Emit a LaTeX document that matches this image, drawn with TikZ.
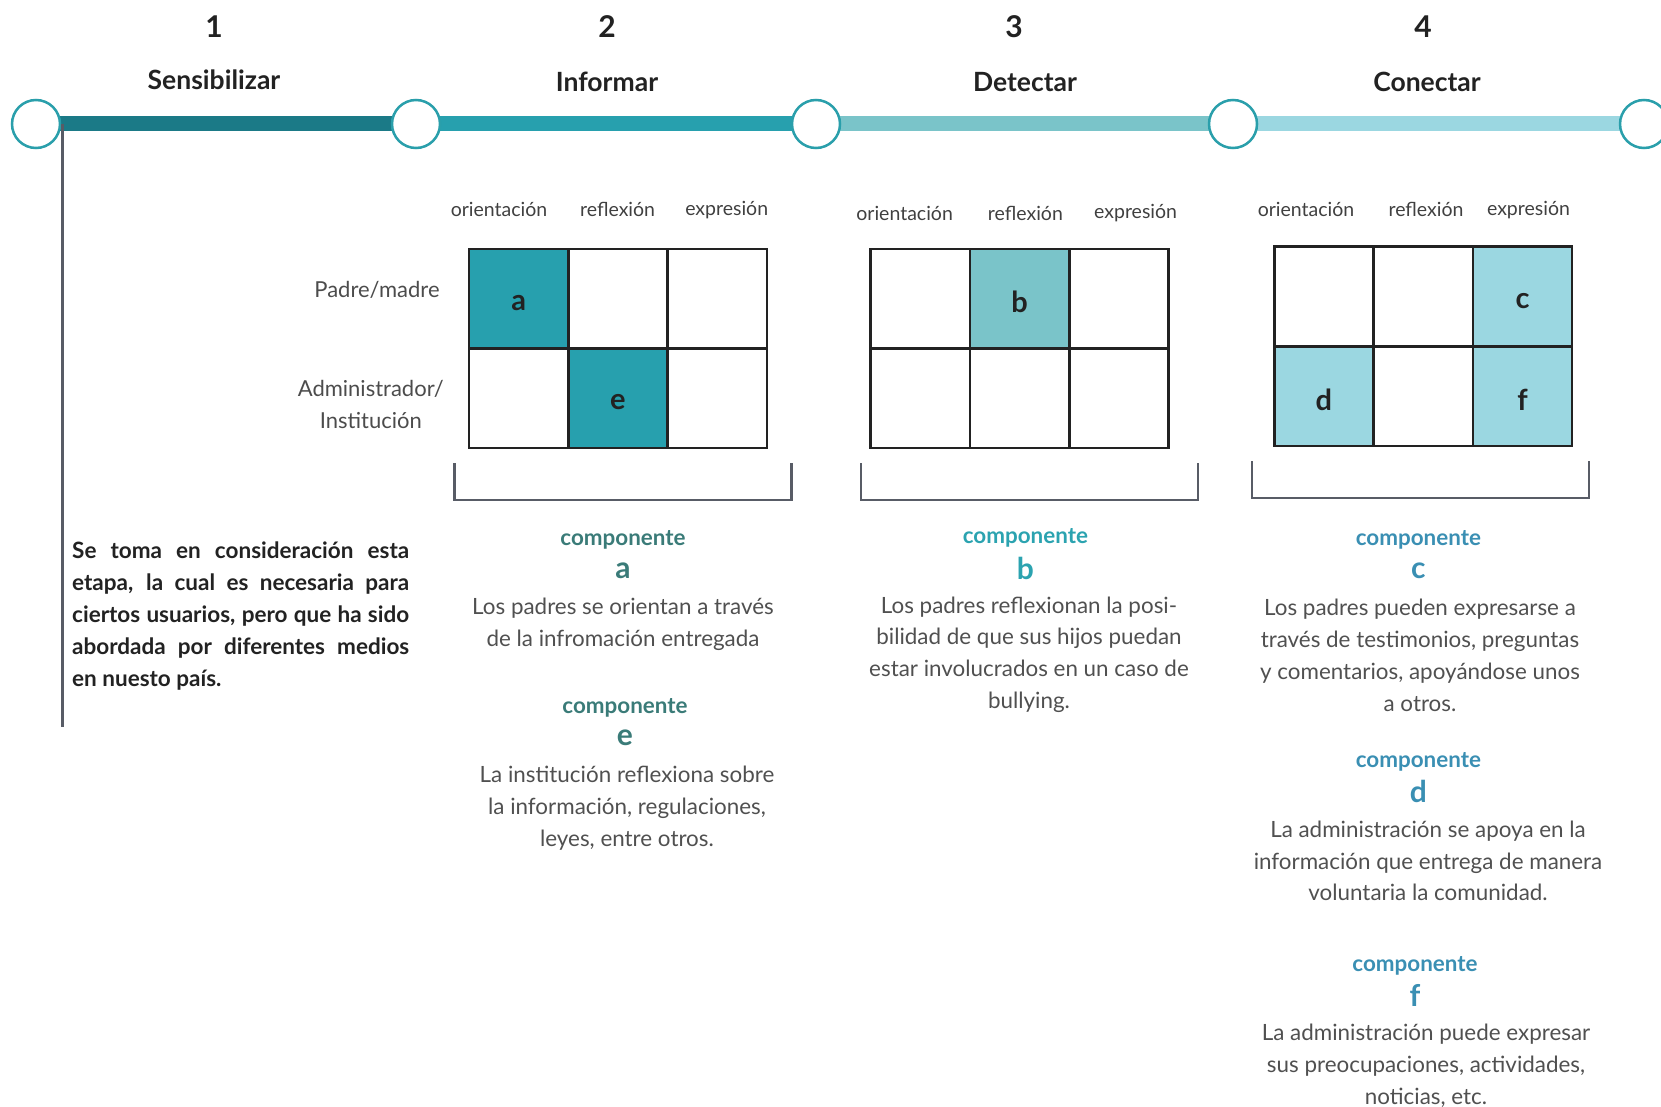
\documentclass[tikz,border=0pt]{standalone}
\usepackage{fontspec}
\setmainfont{Lato}
\usetikzlibrary{backgrounds}
\definecolor{barA}{HTML}{1B7A87}
\definecolor{barB}{HTML}{27A0AE}
\definecolor{barC}{HTML}{7AC4C9}
\definecolor{barD}{HTML}{9BD7E1}
\definecolor{ring}{HTML}{2A9FAB}
\definecolor{frame}{HTML}{585C66}
\definecolor{gridc}{HTML}{222222}
\definecolor{bodyc}{HTML}{505050}
\definecolor{compA}{HTML}{3A7B78}
\definecolor{compB}{HTML}{2BA3B0}
\definecolor{compC}{HTML}{3A8FB3}
\tikzset{
 stage/.style={circle, draw=ring, line width=2.5pt, fill=white, minimum size=48pt, inner sep=0pt},
 bar/.style={line width=15pt},
 cell/.style={draw=gridc, line width=2.5pt, minimum width=99.3pt, minimum height=99.5pt, inner sep=0pt},
 celltext/.style={font=\bfseries\fontsize{29}{29}\selectfont, text=gridc, inner sep=0pt},
 num/.style={font=\bfseries\fontsize{30}{30}\selectfont, text=gridc},
 title/.style={font=\bfseries\fontsize{26.5}{26.5}\selectfont, text=gridc},
 head/.style={font=\fontsize{19.5}{19.5}\selectfont, text=black!75},
 rowlab/.style={font=\fontsize{22}{32}\selectfont, text=black!70, align=center},
 comp/.style={font=\bfseries\fontsize{22.4}{22.4}\selectfont},
 letter/.style={font=\bfseries\fontsize{30}{30}\selectfont},
 body/.style={font=\fontsize{22.4}{31.8}\selectfont, text=bodyc, align=center},
 bracket/.style={draw=frame, line width=2.5pt},
 vline/.style={draw=frame, line width=3pt},
}
\begin{document}
\begin{tikzpicture}[x=1pt, y=-1pt]
\useasboundingbox (0,0) rectangle (1661,1107);
% timeline
\node[stage] (c1) at (36,124) {};
\node[stage] (c2) at (416,124) {};
\node[stage] (c3) at (816,124) {};
\node[stage] (c4) at (1233,124) {};
\node[stage] (c5) at (1644,124) {};
\begin{pgfonlayer}{background}
\draw[bar, barA] (c1.center) -- (c2.center);
\draw[bar, barB] (c2.center) -- (c3.center);
\draw[bar, barC] (c3.center) -- (c4.center);
\draw[bar, barD] (c4.center) -- (c5.center);
\end{pgfonlayer}
\coordinate (vtop) at (62,124);
\coordinate (vbot) at (62,727);
\draw[vline] (vtop) -- (vbot);
% numbers and titles
\node[num] (n1) at (214,26.5) {1};
\node[num] (n2) at (607,26.5) {2};
\node[num] (n3) at (1014,26.5) {3};
\node[num] (n4) at (1423,26.5) {4};
\node[title] (t1) at (214,79.5) {Sensibilizar};
\node[title] (t2) at (607,81.6) {Informar};
\node[title] (t3) at (1025,81.6) {Detectar};
\node[title] (t4) at (1427,81.6) {Conectar};
% headers
\node[head] (h11) at (499,209.7) {orientación};
\node[head] (h12) at (617.6,209.7) {reflexión};
\node[head] (h13) at (726.7,209.7) {expresión};
\node[head] (h21) at (904.6,213) {orientación};
\node[head] (h22) at (1025.4,213) {reflexión};
\node[head] (h23) at (1135.6,213) {expresión};
\node[head] (h31) at (1306,209.7) {orientación};
\node[head] (h32) at (1426,209.7) {reflexión};
\node[head] (h33) at (1528.5,209.7) {expresión};
% row labels
\node[rowlab] (r1) at (377,290) {Padre/madre};
\node[rowlab] (r2) at (370.8,404) {Administrador/\\Institución};
% grid 1
\node[cell] (g1b) at (617.95,298.75) {};
\node[cell] (g1c) at (717.25,298.75) {};
\node[cell] (g1d) at (518.65,398.25) {};
\node[cell] (g1f) at (717.25,398.25) {};
\node[cell, fill=barB] (ca) at (518.65,298.75) {};
\node[cell, fill=barB] (ce) at (617.95,398.25) {};
\node[celltext] (ta) at ([yshift=-4pt]ca.center) {a};
\node[celltext] (te) at ([yshift=-4pt]ce.center) {e};
% grid 2
\node[cell] (g2a) at (920.3,298.75) {};
\node[cell] (g2c) at (1118.9,298.75) {};
\node[cell] (g2d) at (920.3,398.25) {};
\node[cell] (g2e) at (1019.6,398.25) {};
\node[cell] (g2f) at (1118.9,398.25) {};
\node[cell, fill=barC] (cb) at (1019.6,298.75) {};
\node[celltext] (tb) at ([yshift=-3pt]cb.center) {b};
% grid 3
\node[cell] (g3a) at (1323.9,296.5) {};
\node[cell] (g3b) at (1423.2,296.5) {};
\node[cell] (g3e) at (1423.2,396) {};
\node[cell, fill=barD] (cc) at (1522.5,296.5) {};
\node[cell, fill=barD] (cd) at (1323.9,396) {};
\node[cell, fill=barD] (cf) at (1522.5,396) {};
\node[celltext] (tc) at ([yshift=-5pt]cc.center) {c};
\node[celltext] (td) at ([yshift=-4pt]cd.center) {d};
\node[celltext] (tf) at ([yshift=-4pt]cf.center) {f};
% brackets
\draw[bracket] (454.4,463) |- (791.3,500) -- (791.3,463);
\draw[bracket] (861.2,463) |- (1198,500) -- (1198,463);
\draw[bracket] (1252,461) |- (1589,498) -- (1589,461);
% paragraph
\node[anchor=west, text width=337pt, align=justify, inner sep=0pt,
      font=\bfseries\fontsize{22.5}{32}\selectfont, text=gridc] (para) at (72,616)
 {Se toma en consideración esta\linebreak etapa, la cual es necesaria para\linebreak ciertos usuarios, pero que ha sido\linebreak abordada por diferentes medios\linebreak en nuesto país.};
% components column 1
\node[comp, text=compA] (ka) at (623,540) {componente};
\node[letter, text=compA] (la) at (623,571) {a};
\node[body] (da) at (623,624) {Los padres se orientan a través\\de la infromación entregada};
\node[comp, text=compA] (ke) at (625,707.5) {componente};
\node[letter, text=compA] (le) at (625,738) {e};
\node[body] (de) at (627,808) {La institución reflexiona sobre\\la información, regulaciones,\\leyes, entre otros.};
% column 2
\node[comp, text=compB] (kb) at (1025.4,538) {componente};
\node[letter, text=compB] (lb) at (1025.4,568.7) {b};
\node[body] (db) at (1029,654.5) {Los padres reflexionan la posi-\\bilidad de que sus hijos puedan\\estar involucrados en un caso de\\bullying.};
% column 3
\node[comp, text=compC] (kc) at (1418.4,540) {componente};
\node[letter, text=compC] (lc) at (1418.4,570.8) {c};
\node[body] (dc) at (1420,655.5) {Los padres pueden expresarse a\\través de testimonios, preguntas\\y comentarios, apoyándose unos\\a otros.};
\node[comp, text=compC] (kd) at (1418.4,761.5) {componente};
\node[letter, text=compC] (ld) at (1418.4,791) {d};
\node[body] (dd) at (1428,861) {La administración se apoya en la\\información que entrega de manera\\voluntaria la comunidad.};
\node[comp, text=compC] (kf) at (1415,966) {componente};
\node[letter, text=compC] (lf) at (1415,995.6) {f};
\node[body] (df) at (1426,1065.5) {La administración puede expresar\\sus preocupaciones, actividades,\\noticias, etc.};
\end{tikzpicture}
\end{document}
